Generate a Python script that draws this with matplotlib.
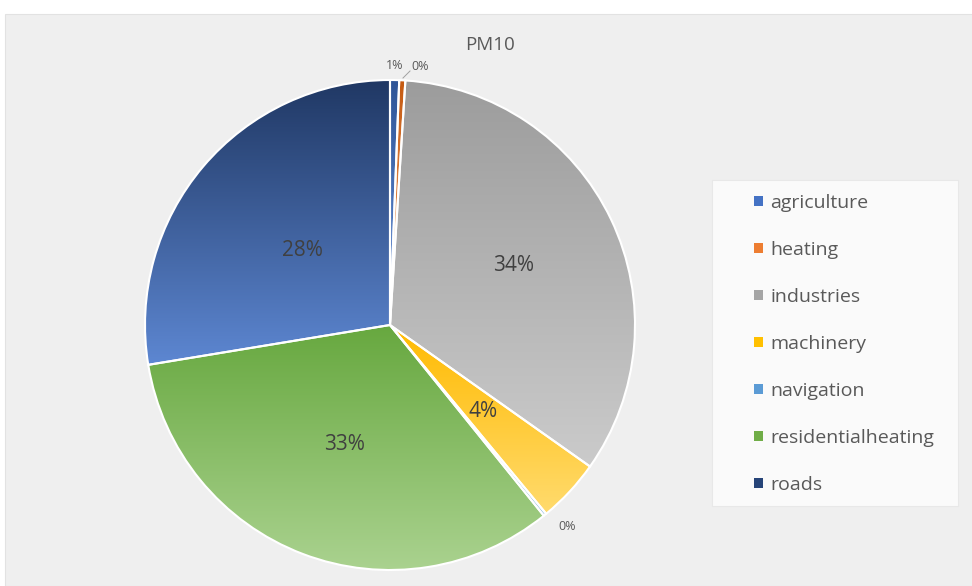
import numpy as np
import matplotlib
matplotlib.use("Agg")
import matplotlib.pyplot as plt
from matplotlib.colors import LinearSegmentedColormap
from matplotlib.patches import Rectangle, Patch

plt.rcParams['font.family'] = ['Open Sans', 'DejaVu Sans']

# Datos
categorias = ["agriculture", "heating", "industries", "machinery",
              "navigation", "residentialheating", "roads"]
valores = [0.6, 0.4, 33.8, 4.2, 0.2, 33.2, 27.6]

colores = ["#4472C4", "#ED7D31", "#A5A5A5", "#FFC000",
           "#5B9BD5", "#70AD47", "#264478"]
# degradado de arriba (oscuro) a abajo (claro)
degradados = [("#2F5597", "#6690DA"), ("#C55A11", "#F4A46E"),
              ("#9C9C9C", "#CBCBCB"), ("#FFBA00", "#FFDB6E"),
              ("#2E75B6", "#9DC3E6"), ("#67A83F", "#AAD28F"),
              ("#203864", "#5D87D2")]

W, H = 972, 586
fig = plt.figure(figsize=(W / 100, H / 100), dpi=100, facecolor="white")
# fondo gris del área del gráfico
fig.patches.append(Rectangle((5 / W, 0), 1, (H - 14) / H, transform=fig.transFigure,
                             facecolor="#EFEFEF", edgecolor="#E2E2E2", lw=0.8, zorder=-2))
# caja blanca de la leyenda
fig.patches.append(Rectangle((712 / W, 1 - 506 / H), 246 / W, 326 / H,
                             transform=fig.transFigure, facecolor="#FAFAFA",
                             edgecolor="#E8E8E8", lw=0.8, zorder=-1))

ax = fig.add_axes([0, 0, 1, 1])
ax.patch.set_alpha(0)

centro = (390, H - 325)
radio = 245

wedges, textos, autotextos = ax.pie(
    valores, colors=colores, startangle=90, counterclock=False,
    center=centro, radius=radio, autopct='%1.0f%%', pctdistance=0.52,
    wedgeprops=dict(edgecolor="white", linewidth=1.5),
    textprops=dict(color="#404040", fontsize=15))

# relleno degradado por sector
for w, (c1, c2) in zip(wedges, degradados):
    ext = w.get_path().get_extents()
    cmap = LinearSegmentedColormap.from_list("g", [c2, c1])
    grad = np.linspace(0, 1, 256).reshape(-1, 1)
    im = ax.imshow(grad, cmap=cmap, aspect="auto", origin="lower",
                   extent=[ext.x0, ext.x1, ext.y0, ext.y1], zorder=1)
    im.set_clip_path(w)
    w.set_zorder(2)
    w.set_facecolor("none")

# ajustar posiciones de etiquetas
distancias = [1.06, 0.0, 0.56, 0.52, 1.1, 0.52, 0.47]
for w, t, d in zip(wedges, autotextos, distancias):
    t.set_zorder(5)
    ang = np.deg2rad((w.theta1 + w.theta2) / 2)
    if d > 0:
        t.set_position((centro[0] + d * radio * np.cos(ang),
                        centro[1] + d * radio * np.sin(ang)))
    if d > 1:
        t.set_fontsize(9)
        t.set_color("#595959")

# etiqueta de navigation un poco más a la derecha
autotextos[4].set_position((567, H - 527))

# etiqueta de heating con línea guía
t = autotextos[1]
t.set_position((420, H - 67))
t.set_fontsize(9)
t.set_color("#595959")
ax.plot([403, 410], [H - 78, H - 71], color="#A0A0A0", lw=0.7, zorder=5)

ax.set_xlim(0, W)
ax.set_ylim(0, H)
ax.set_aspect("equal")
ax.axis("off")

fig.text(490 / W, 1 - 45 / H, "PM10", ha="center", va="center",
         fontsize=13.5, color="#595959")

# leyenda con colores planos
manejadores = [Patch(facecolor=c, edgecolor="none") for c in colores]
leg = fig.legend(manejadores, categorias, loc="upper left",
                 bbox_to_anchor=(754 / W, 1 - 194 / H), frameon=False,
                 fontsize=14, labelcolor="#595959", handlelength=0.45,
                 handleheight=0.45, handletextpad=0.4, labelspacing=1.49,
                 borderpad=0, borderaxespad=0)

fig.savefig("out.png", dpi=100, facecolor="white")
